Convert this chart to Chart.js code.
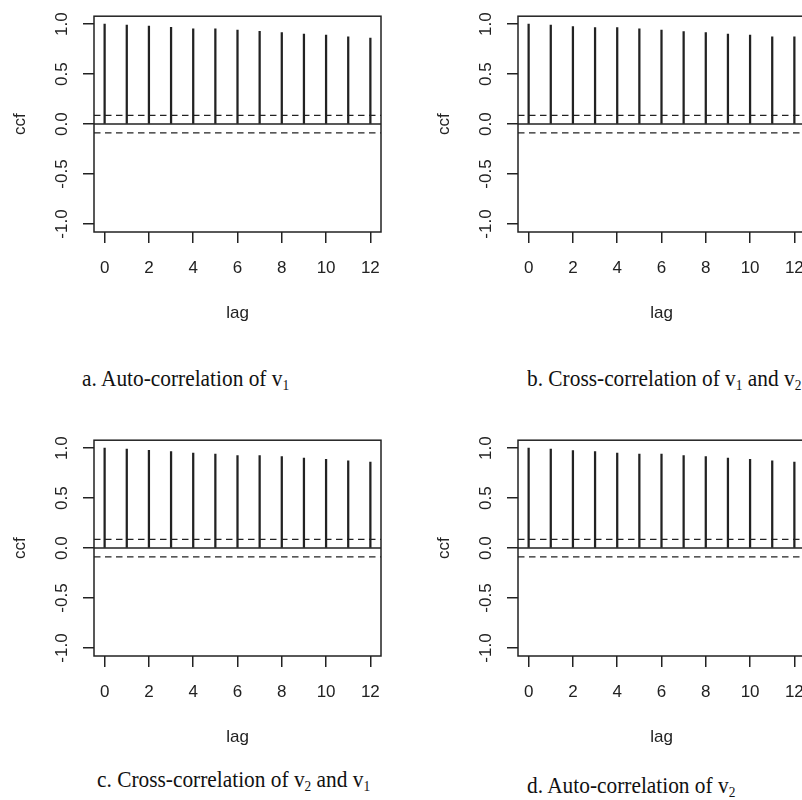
<!DOCTYPE html>
<html>
<head>
<meta charset="utf-8">
<title>ccf plots</title>
<script src="https://cdn.jsdelivr.net/npm/chart.js@4.4.0/dist/chart.umd.min.js"></script>
<style>
  html, body { margin: 0; padding: 0; background: #fff; overflow: hidden; }
  body { width: 802px; height: 800px; position: relative; }
  .panel { position: absolute; width: 424px; height: 330px; }
  .panel canvas { display: block; }
  .caption {
    position: absolute;
    font-family: 'Liberation Serif', 'Times New Roman', serif;
    font-size: 24px;
    line-height: 24px;
    color: #111;
    white-space: nowrap;
    transform: scaleX(0.89);
    transform-origin: 0 0;
  }
  .caption sub { font-size: 15px; line-height: 0; vertical-align: -4px; }
</style>
</head>
<body>
<div class="panel" style="left:0px;top:0px"><canvas id="chartA" width="424" height="330"></canvas></div>
<div class="panel" style="left:424px;top:0px"><canvas id="chartB" width="424" height="330"></canvas></div>
<div class="panel" style="left:0px;top:424px"><canvas id="chartC" width="424" height="330"></canvas></div>
<div class="panel" style="left:424px;top:424px"><canvas id="chartD" width="424" height="330"></canvas></div>

<div class="caption" style="left:82px;top:366px">a. Auto-correlation of v<sub>1</sub></div>
<div class="caption" style="left:527px;top:366px">b. Cross-correlation of v<sub>1</sub> and v<sub>2</sub></div>
<div class="caption" style="left:97px;top:767px">c. Cross-correlation of v<sub>2</sub> and v<sub>1</sub></div>
<div class="caption" style="left:527px;top:773px">d. Auto-correlation of v<sub>2</sub></div>

<script>
// lags and correlation values
const lags = [0, 1, 2, 3, 4, 5, 6, 7, 8, 9, 10, 11, 12];
const ccfA = [1.0, 0.99, 0.98, 0.968, 0.954, 0.953, 0.941, 0.929, 0.915, 0.902, 0.89, 0.873, 0.86];
const ccfB = [1.0, 0.99, 0.975, 0.965, 0.965, 0.953, 0.94, 0.927, 0.915, 0.902, 0.89, 0.873, 0.873];
const ccfC = [1.0, 0.99, 0.978, 0.965, 0.952, 0.94, 0.927, 0.927, 0.915, 0.902, 0.888, 0.873, 0.86];
const ccfD = [1.0, 0.99, 0.975, 0.965, 0.952, 0.94, 0.94, 0.927, 0.915, 0.902, 0.888, 0.873, 0.86];

// confidence band (dashed lines)
const ciLimit = 0.088;

// axes
const xTicks = [0, 2, 4, 6, 8, 10, 12];
const yTicks = [-1, -0.5, 0, 0.5, 1];
const xRange = [-0.48, 12.48];
const yRange = [-1.08, 1.08];

const ink = '#222';
const axisFont = { family: "'Liberation Sans', Arial, sans-serif", size: 17 };

// box around the plot region, like R's frame
const framePlugin = {
  id: 'frame',
  afterDraw(chart) {
    const { ctx, chartArea } = chart;
    ctx.save();
    ctx.strokeStyle = ink;
    ctx.lineWidth = 1.5;
    ctx.strokeRect(chartArea.left, chartArea.top, chartArea.right - chartArea.left, chartArea.bottom - chartArea.top);
    ctx.restore();
  }
};

function hline(value, dash, width) {
  return {
    type: 'line',
    data: [{ x: xRange[0], y: value }, { x: xRange[1], y: value }],
    borderColor: ink,
    borderWidth: width,
    borderDash: dash,
    pointRadius: 0,
    fill: false
  };
}

function makeChart(id, values) {
  const ctx = document.getElementById(id).getContext('2d');
  return new Chart(ctx, {
    type: 'bar',
    data: {
      datasets: [
        {
          type: 'bar',
          data: lags.map((l, i) => ({ x: l, y: values[i] })),
          backgroundColor: ink,
          barThickness: 1.6
        },
        hline(0, [], 1.5),
        hline(ciLimit, [6.5, 4.5], 1.3),
        hline(-ciLimit, [6.5, 4.5], 1.3)
      ]
    },
    options: {
      responsive: false,
      animation: false,
      devicePixelRatio: 1,
      layout: { padding: { left: 0, top: 12, right: 43, bottom: 6 } },
      plugins: { legend: { display: false }, tooltip: { enabled: false } },
      scales: {
        x: {
          type: 'linear',
          min: xRange[0],
          max: xRange[1],
          offset: false,
          afterBuildTicks: s => { s.ticks = xTicks.map(v => ({ value: v })); },
          afterFit: s => { s.height = 92; },
          grid: { offset: false, drawOnChartArea: false, drawTicks: true, tickLength: 11, color: ink, lineWidth: 1.5 },
          border: { display: false },
          ticks: { color: ink, font: axisFont, padding: 15, maxRotation: 0, autoSkip: false },
          title: { display: true, text: 'lag', color: ink, font: axisFont, padding: { top: 0, bottom: 0 } }
        },
        y: {
          type: 'linear',
          min: yRange[0],
          max: yRange[1],
          afterBuildTicks: s => { s.ticks = yTicks.map(v => ({ value: v })); },
          afterFit: s => { s.width = 94; },
          grid: { drawOnChartArea: false, drawTicks: true, tickLength: 11, color: ink, lineWidth: 1.5 },
          border: { display: false },
          ticks: {
            color: ink,
            font: axisFont,
            padding: 6,
            minRotation: 90,
            maxRotation: 90,
            crossAlign: 'center',
            callback: v => v.toFixed(1)
          },
          title: { display: true, text: 'ccf', color: ink, font: axisFont, padding: { top: 10, bottom: 0 } }
        }
      }
    },
    plugins: [framePlugin]
  });
}

const chartA = makeChart('chartA', ccfA);
const chartB = makeChart('chartB', ccfB);
const chartC = makeChart('chartC', ccfC);
const chartD = makeChart('chartD', ccfD);
</script>
</body>
</html>
